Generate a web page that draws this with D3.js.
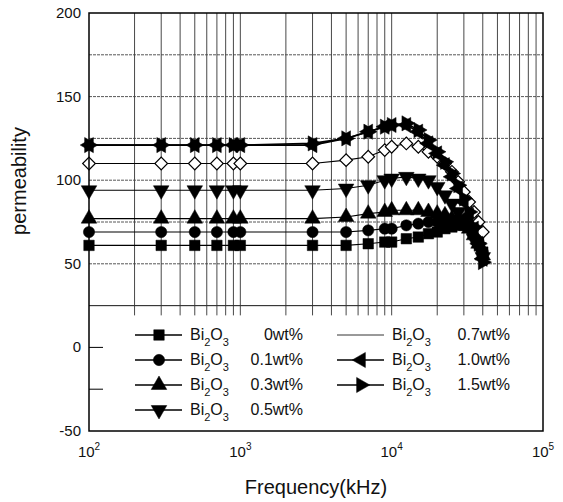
<!DOCTYPE html>
<html><head><meta charset="utf-8">
<script src="https://cdn.jsdelivr.net/npm/d3@7"></script>
<style>body{margin:0;background:#fff}svg{display:block;font-family:Arial,"Liberation Sans",sans-serif}</style>
</head><body><svg id="c" width="563" height="502"></svg>
<script>
const freq = [100,300,500,700,900,1000,3000,5000,7000,9000,10000,12500,15000,17500,20000,22500,25000,27500,30000,32500,35000,37500,40000];
const bi0  = [61,61,61,61,61,61,61,61,62,63,63,65,66,68,69,71,72,73,73,72,69,64,57];
const bi01 = [69,69,69,69,69,69,69,69,70,71,71,73,74,75,75,76,76,75,74,72,68,63,57];
const bi03 = [77,77,77,77,77,77,77,78,80,81,82,82,82,81,80,79,77,76,74,71,67,62,55];
const bi05 = [94,94,94,94,94,94,94,95,97,100,101,102,101,100,96,91,86,81,76,71,65,60,54];
const bi07 = [110,110,110,110,110,110,110,112,114,118,120,122,120,117,114,110,105,99,93,87,81,75,69];
const bi10 = [121,121,121,121,121,121,121,125,129,132,133,133,129,122,116,109,102,95,87,79,71,62,53];
const bi15 = [121,121,121,121,121,121,122,125,129,132,133,134,130,124,117,111,104,97,89,81,72,62,51];
const seriesNames = ["0wt%","0.1wt%","0.3wt%","0.5wt%","0.7wt%","1.0wt%","1.5wt%"];
const yTicks = [-50,0,50,100,150,200];
const xTicks = [100,1000,10000,100000];

const svg = d3.select("#c");
const x = d3.scaleLog().domain([100,100000]).range([89,543]);
const y = d3.scaleLinear().domain([-50,200]).range([431,13]);

const gridG = svg.append("g");
const minor = [];
for (let e=2;e<5;e++) for (let m=1;m<10;m++) minor.push(m*Math.pow(10,e));
gridG.selectAll("line.v").data(minor.filter(v=>v>100)).join("line")
  .attr("x1",d=>x(d)).attr("x2",d=>x(d)).attr("y1",y(200)).attr("y2",y(25)+10)
  .attr("stroke","#333").attr("stroke-width",0.9);
gridG.selectAll("line.h").data(d3.range(25,200,25)).join("line")
  .attr("x1",x(100)).attr("x2",x(100000)).attr("y1",d=>y(d)).attr("y2",d=>y(d))
  .attr("stroke","#444").attr("stroke-width",0.9).attr("stroke-dasharray",d=>d===25?null:"3,1");

svg.append("rect").attr("x",x(100)).attr("y",y(25)+10).attr("width",x(100000)-x(100)).attr("height",y(-50)-y(25)-10).attr("fill","#fff");
svg.append("line").attr("x1",x(100)).attr("x2",x(100000)).attr("y1",y(25)).attr("y2",y(25)).attr("stroke","#333").attr("stroke-width",1);

svg.selectAll("line.lt").data([0,-25]).join("line")
  .attr("x1",x(100)).attr("x2",x(100)+14).attr("y1",d=>y(d)).attr("y2",d=>y(d))
  .attr("stroke","#000").attr("stroke-width",1);

const series = [bi0,bi01,bi03,bi05,bi07,bi10,bi15];
const sym = [
  {t:d3.symbolSquare,s:110,r:0,fill:"#000"},
  {t:d3.symbolCircle,s:100,r:0,fill:"#000"},
  {t:d3.symbolTriangle,s:105,r:0,fill:"#000"},
  {t:d3.symbolTriangle,s:105,r:180,fill:"#000"},
  {t:d3.symbolSquare,s:80,r:45,fill:"#fff"},
  {t:d3.symbolTriangle,s:100,r:-90,fill:"#000"},
  {t:d3.symbolTriangle,s:100,r:90,fill:"#000"}
];
const line = d3.line().x((d,i)=>x(freq[i])).y(d=>y(d));
series.forEach((s,k)=>{
  svg.append("path").attr("d",line(s)).attr("fill","none").attr("stroke","#000")
    .attr("stroke-width",k>=5?1.6:1.1);
});
series.forEach((s,k)=>{
  const sp = sym[k];
  svg.append("g").selectAll("path").data(s).join("path")
    .attr("d",d3.symbol().type(sp.t).size(sp.s))
    .attr("transform",(d,i)=>`translate(${x(freq[i])},${y(d)}) rotate(${sp.r})`)
    .attr("fill",sp.fill).attr("stroke","#000").attr("stroke-width",sp.fill==="#fff"?1.2:0.5);
});

svg.append("rect").attr("x",x(100)).attr("y",y(200)).attr("width",x(100000)-x(100)).attr("height",y(-50)-y(200))
  .attr("fill","none").attr("stroke","#000").attr("stroke-width",1.5);

svg.selectAll("text.yt").data(yTicks).join("text")
  .attr("x",81).attr("y",d=>y(d)+5).attr("text-anchor","end").attr("font-size",15).attr("fill","#111").text(d=>d);
xTicks.forEach(v=>{
  const t = svg.append("text").attr("x",x(v)).attr("y",457).attr("text-anchor","middle").attr("font-size",15).attr("fill","#111");
  t.append("tspan").text("10");
  t.append("tspan").attr("dy",-7).attr("font-size",10).text(Math.round(Math.log10(v)));
});
svg.append("text").attr("x",316).attr("y",494).attr("text-anchor","middle").attr("font-size",20).attr("fill","#111").text("Frequency(kHz)");
svg.append("text").attr("transform","translate(26,181) rotate(-90)").attr("text-anchor","middle").attr("font-size",20).attr("fill","#111").text("permeability");

const legPos = [
  {lx:135,tx:190,vx:303,row:0},{lx:135,tx:190,vx:303,row:1},{lx:135,tx:190,vx:303,row:2},{lx:135,tx:190,vx:303,row:3},
  {lx:337,tx:392,vx:510,row:0},{lx:337,tx:392,vx:510,row:1},{lx:337,tx:392,vx:510,row:2}
];
legPos.forEach((p,k)=>{
  const yy = 335 + p.row*25;
  svg.append("line").attr("x1",p.lx).attr("x2",p.lx+47).attr("y1",yy).attr("y2",yy).attr("stroke","#000").attr("stroke-width",k===4?0.8:1.3);
  if (k!==4){
    const sp = sym[k];
    svg.append("path").attr("d",d3.symbol().type(sp.t).size(sp.s)())
      .attr("transform",`translate(${p.lx+24},${yy}) rotate(${sp.r})`).attr("fill",sp.fill).attr("stroke","#000").attr("stroke-width",0.5);
  }
  const t = svg.append("text").attr("x",p.tx).attr("y",yy+5).attr("font-size",16).attr("fill","#111");
  t.append("tspan").text("Bi");
  t.append("tspan").attr("dy",6).attr("font-size",11).text("2");
  t.append("tspan").attr("dy",-6).text("O");
  t.append("tspan").attr("dy",6).attr("font-size",11).text("3");
  svg.append("text").attr("x",p.vx).attr("y",yy+5).attr("text-anchor","end").attr("font-size",16).attr("fill","#111").text(seriesNames[k]);
});
</script></body></html>
